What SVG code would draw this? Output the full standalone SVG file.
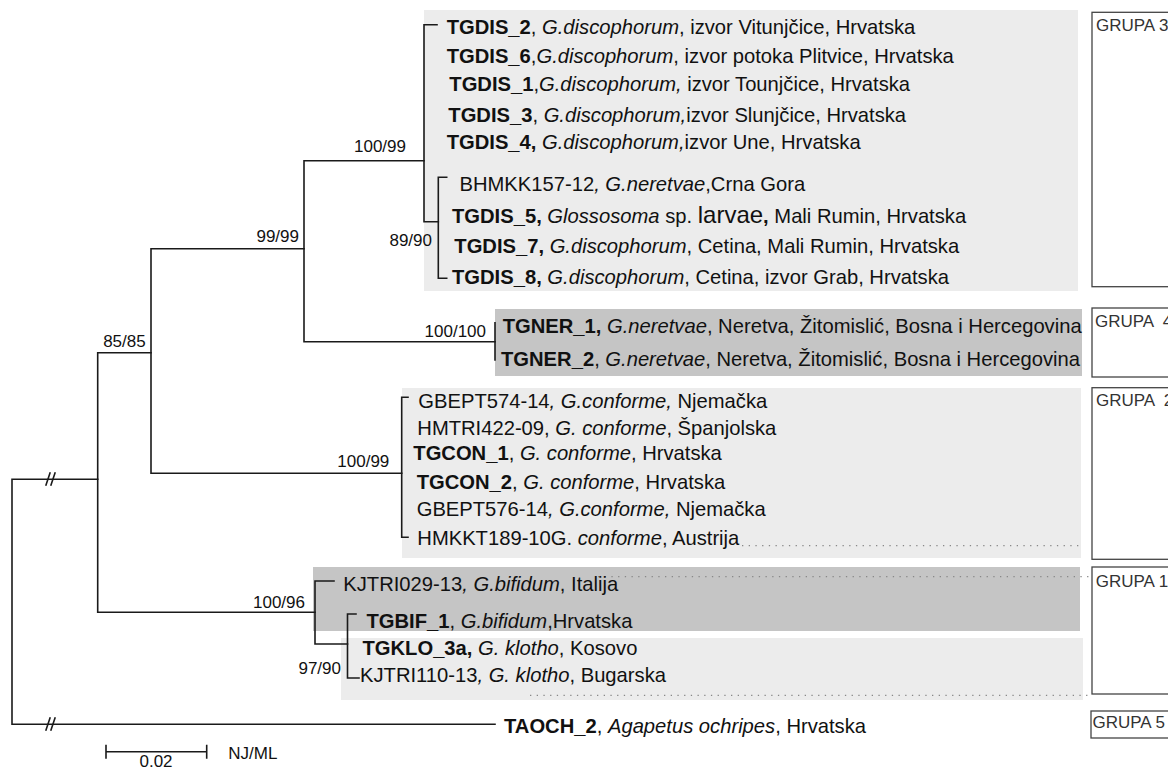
<svg xmlns="http://www.w3.org/2000/svg" width="1168" height="767" viewBox="0 0 1168 767">
<style>
text{font-family:"Liberation Sans",Arial,sans-serif;fill:#111}
.lab{font-size:20.2px}
.sup{font-size:17px}
.grp{font-size:17px;fill:#333;white-space:pre}
.b{font-weight:bold}
.i{font-style:italic}
.br{stroke:#1a1a1a;stroke-width:1.6;fill:none;stroke-linecap:square}
.box{fill:#fff;stroke:#444;stroke-width:1.3}
.dot{stroke:#888;stroke-width:1.3;stroke-dasharray:1.3 5.4;fill:none}
.lg{fill:#ececec}
.dg{fill:#c5c5c5}
</style>
<rect width="1168" height="767" fill="#fff"/>
<g id="backgrounds">
<rect class="lg" x="424" y="10" width="654" height="281"/>
<rect class="dg" x="495" y="309" width="587" height="67"/>
<rect class="lg" x="402" y="388" width="679" height="170"/>
<rect class="dg" x="313" y="567" width="767" height="64"/>
<rect class="lg" x="341" y="638" width="742" height="62"/>
</g>
<g id="connectors">
<path class="br" d="M12,479.3V724.3M12,479.3H97.7M12,724.3H495"/>
<path class="br" d="M46,485L50,473M51,485L55,473M46,730L50,718M51,730L55,718" stroke-linecap="butt"/>
<path class="br" d="M97.7,352.7V612.3M97.7,352.7H151M97.7,612.3H315"/>
<path class="br" d="M151,248.7V473.3M151,248.7H304M151,473.3H401.7"/>
<path class="br" d="M304,160.7V341.7M304,160.7H424M304,341.7H495"/>
<path class="br" d="M424,24.7V221.7M424,24.7H437M424,221.7H438.3"/>
<path class="br" d="M438.3,177.3V278.3M438.3,177.3H446.7M438.3,278.3H446.7"/>
<path class="br" d="M495,322.7V360"/>
<path class="br" d="M401.7,397.3V537.3M401.7,397.3H408M401.7,537.3H408"/>
<path class="br" d="M315,581V644M315,581H334M315,644H347.5"/>
<path class="br" d="M347.5,614V678M347.5,614H356M347.5,678H359"/>
<path class="dot" d="M742,545.7H1080M598,576.7H1090M530,695.3H1090"/>
</g>
<g id="support">
<text class="sup" x="406" y="151.7" text-anchor="end">100/99</text>
<text class="sup" x="299" y="242.3" text-anchor="end">99/99</text>
<text class="sup" x="432" y="245.5" text-anchor="end">89/90</text>
<text class="sup" x="145.7" y="346.7" text-anchor="end">85/85</text>
<text class="sup" x="486" y="337" text-anchor="end">100/100</text>
<text class="sup" x="389.3" y="467.3" text-anchor="end">100/99</text>
<text class="sup" x="305" y="607.5" text-anchor="end">100/96</text>
<text class="sup" x="341" y="674" text-anchor="end">97/90</text>
</g>
<g id="n-tgdis2"><text class="lab" x="446.7" y="34.3"><tspan class="b">TGDIS_2</tspan>, <tspan class="i">G.discophorum</tspan>, izvor Vitunjčice, Hrvatska</text></g>
<g id="n-tgdis6"><text class="lab" x="446.7" y="62.7"><tspan class="b">TGDIS_6</tspan>,<tspan class="i">G.discophorum</tspan>, izvor potoka Plitvice, Hrvatska</text></g>
<g id="n-tgdis1"><text class="lab" x="449.3" y="91"><tspan class="b">TGDIS_1</tspan>,<tspan class="i">G.discophorum,</tspan> izvor Tounjčice, Hrvatska</text></g>
<g id="n-tgdis3"><text class="lab" x="448.3" y="122.3"><tspan class="b">TGDIS_3</tspan>, <tspan class="i">G.discophorum,</tspan>izvor Slunjčice, Hrvatska</text></g>
<g id="n-tgdis4"><text class="lab" x="446.7" y="149"><tspan class="b">TGDIS_4,</tspan> <tspan class="i">G.discophorum,</tspan>izvor Une, Hrvatska</text></g>
<g id="n-bhmkk"><text class="lab" x="459.5" y="191">BHMKK157-12<tspan class="i">, G.neretvae</tspan>,Crna Gora</text></g>
<g id="n-tgdis5"><text class="lab" x="452" y="223"><tspan class="b">TGDIS_5,</tspan> <tspan class="i">Glossosoma</tspan> sp. <tspan font-size="24">larvae</tspan><tspan class="b">,</tspan> Mali Rumin, Hrvatska</text></g>
<g id="n-tgdis7"><text class="lab" x="454.3" y="253.3"><tspan class="b">TGDIS_7,</tspan> <tspan class="i">G.discophorum</tspan>, Cetina, Mali Rumin, Hrvatska</text></g>
<g id="n-tgdis8"><text class="lab" x="452" y="283.5"><tspan class="b">TGDIS_8,</tspan> <tspan class="i">G.discophorum</tspan>, Cetina, izvor Grab, Hrvatska</text></g>
<g id="n-tgner1"><text class="lab" x="502.7" y="333.3"><tspan class="b">TGNER_1,</tspan> <tspan class="i">G.neretvae</tspan>, Neretva, Žitomislić, Bosna i Hercegovina</text></g>
<g id="n-tgner2"><text class="lab" x="501" y="365.7"><tspan class="b">TGNER_2</tspan>, <tspan class="i">G.neretvae</tspan>, Neretva, Žitomislić, Bosna i Hercegovina</text></g>
<g id="n-gbept574"><text class="lab" x="418.3" y="408.3">GBEPT574-14<tspan class="i">, G.conforme,</tspan> Njemačka</text></g>
<g id="n-hmtri422"><text class="lab" x="417.3" y="435">HMTRI422-09, <tspan class="i">G. conforme</tspan>, Španjolska</text></g>
<g id="n-tgcon1"><text class="lab" x="413.3" y="460"><tspan class="b">TGCON_1</tspan>, <tspan class="i">G. conforme</tspan>, Hrvatska</text></g>
<g id="n-tgcon2"><text class="lab" x="416.7" y="489"><tspan class="b">TGCON_2</tspan>, <tspan class="i">G. conforme</tspan>, Hrvatska</text></g>
<g id="n-gbept576"><text class="lab" x="416.7" y="516">GBEPT576-14<tspan class="i">, G.conforme,</tspan> Njemačka</text></g>
<g id="n-hmkkt189"><text class="lab" x="417.3" y="545">HMKKT189-10G. <tspan class="i">conforme</tspan>, Austrija</text></g>
<g id="n-kjtri029"><text class="lab" x="343.3" y="590.5">KJTRI029-13<tspan class="i">, G.bifidum</tspan>, Italija</text></g>
<g id="n-tgbif1"><text class="lab" x="366.5" y="628.3"><tspan class="b">TGBIF_1</tspan>, <tspan class="i">G.bifidum</tspan>,Hrvatska</text></g>
<g id="n-tgklo3a"><text class="lab" x="362.5" y="655"><tspan class="b">TGKLO_3a,</tspan> <tspan class="i">G. klotho</tspan>, Kosovo</text></g>
<g id="n-kjtri110"><text class="lab" x="360" y="682">KJTRI110-13<tspan class="i">, G. klotho</tspan>, Bugarska</text></g>
<g id="n-taoch2"><text class="lab" x="504" y="733"><tspan class="b">TAOCH_2</tspan>, <tspan class="i">Agapetus ochripes</tspan>, Hrvatska</text></g>
<g id="grupa3"><rect class="box" x="1092" y="12.3" width="100" height="274.4"/><text class="grp" x="1096" y="30.7">GRUPA 3</text></g>
<g id="grupa4"><rect class="box" x="1092" y="308" width="100" height="69"/><text class="grp" x="1095" y="326.7">GRUPA  4</text></g>
<g id="grupa2"><rect class="box" x="1092" y="387.7" width="100" height="171.6"/><text class="grp" x="1096" y="406">GRUPA  2</text></g>
<g id="grupa1"><rect class="box" x="1092" y="567" width="100" height="127"/><text class="grp" x="1095.7" y="586.7">GRUPA 1</text></g>
<g id="grupa5"><rect class="box" x="1091" y="711" width="100" height="27"/><text class="grp" x="1092.5" y="727.7">GRUPA 5</text></g>
<g id="scale">
<path class="br" d="M106,751.7H206.7M106,745.5V758M206.7,745.5V758" stroke-linecap="butt"/>
<text class="sup" x="156" y="767" text-anchor="middle">0.02</text>
<text class="sup" x="228.3" y="759">NJ/ML</text>
</g>
</svg>
